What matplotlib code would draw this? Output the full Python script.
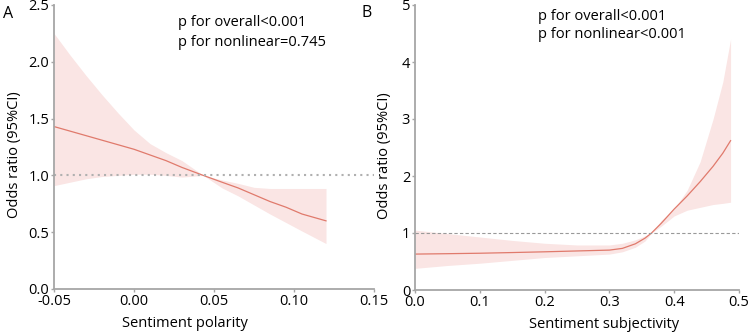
import matplotlib
matplotlib.use("Agg")
import matplotlib.pyplot as plt

plt.rcParams['font.family'] = ['Open Sans', 'DejaVu Sans']

# Panel A: sentiment polarity
pol_x = [-0.05, -0.04, -0.03, -0.02, -0.01, 0.0, 0.01, 0.02, 0.03, 0.0433,
         0.055, 0.065, 0.075, 0.085, 0.095, 0.105, 0.12]
pol_or = [1.43, 1.39, 1.35, 1.31, 1.27, 1.23, 1.18, 1.13, 1.07, 1.0,
          0.94, 0.89, 0.83, 0.77, 0.72, 0.66, 0.60]
pol_hi = [2.25, 2.06, 1.88, 1.71, 1.55, 1.40, 1.28, 1.20, 1.13, 1.0,
          0.96, 0.93, 0.895, 0.885, 0.885, 0.885, 0.885]
pol_lo = [0.91, 0.94, 0.97, 0.99, 1.0, 1.01, 1.01, 1.0, 0.985, 1.0,
          0.89, 0.82, 0.74, 0.66, 0.585, 0.51, 0.40]

# Panel B: sentiment subjectivity
sub_x = [0.0, 0.05, 0.1, 0.15, 0.2, 0.25, 0.3, 0.32, 0.34, 0.355, 0.365,
         0.38, 0.40, 0.42, 0.44, 0.46, 0.475, 0.487]
sub_or = [0.63, 0.637, 0.645, 0.657, 0.67, 0.685, 0.70, 0.73, 0.81, 0.91, 1.0,
          1.17, 1.42, 1.65, 1.90, 2.17, 2.40, 2.62]
sub_hi = [1.05, 0.99, 0.93, 0.87, 0.82, 0.79, 0.79, 0.82, 0.88, 0.95, 1.0,
          1.22, 1.42, 1.75, 2.25, 3.0, 3.65, 4.4]
sub_lo = [0.38, 0.43, 0.47, 0.52, 0.57, 0.60, 0.63, 0.67, 0.75, 0.86, 1.0,
          1.12, 1.30, 1.40, 1.45, 1.50, 1.52, 1.54]

line_c = '#e07a6c'
fill_c = '#fae5e4'
spine_c = '#a6a6a6'
fs = 10.5

fig = plt.figure(figsize=(7.5, 3.32), dpi=100)
axA = fig.add_axes([54/750, 1-289/332, 320/750, 284/332])
axB = fig.add_axes([415/750, 1-290/332, 324/750, 285/332])

def style(ax):
    for s in ['top', 'right']:
        ax.spines[s].set_visible(False)
    for s in ['left', 'bottom']:
        ax.spines[s].set_color(spine_c)
        ax.spines[s].set_linewidth(1.3)
    ax.tick_params(axis='both', length=2.5, width=1, color=spine_c,
                   labelsize=fs, pad=1, labelcolor='black')

# A
axA.fill_between(pol_x, pol_lo, pol_hi, color=fill_c, lw=0)
axA.plot(pol_x, pol_or, color=line_c, lw=0.9)
axA.axhline(1.0, color='#b0b0b0', lw=1.5, ls=(0, (1, 2)))
axA.set_xlim(-0.05, 0.15)
axA.set_ylim(0, 2.5)
axA.set_xticks([-0.05, 0.0, 0.05, 0.10, 0.15])
axA.set_xticklabels(['-0.05', '0.00', '0.05', '0.10', '0.15'])
axA.set_yticks([0, 0.5, 1.0, 1.5, 2.0, 2.5])
axA.set_yticklabels(['0.0', '0.5', '1.0', '1.5', '2.0', '2.5'])
style(axA)
axA.set_xlabel('Sentiment polarity', fontsize=fs)
axA.xaxis.set_label_coords(0.41, -0.095)
axA.set_ylabel('Odds ratio (95%CI)', fontsize=fs)
axA.yaxis.set_label_coords(-0.1, 0.472)

# B
axB.fill_between(sub_x, sub_lo, sub_hi, color=fill_c, lw=0)
axB.plot(sub_x, sub_or, color=line_c, lw=0.9)
axB.axhline(1.0, color='#999999', lw=0.8, ls=(0, (3, 2)))
axB.set_xlim(0, 0.5)
axB.set_ylim(0, 5)
axB.set_xticks([0, 0.1, 0.2, 0.3, 0.4, 0.5])
axB.set_xticklabels(['0.0', '0.1', '0.2', '0.3', '0.4', '0.5'])
axB.set_yticks([0, 1, 2, 3, 4, 5])
style(axB)
axB.set_xlabel('Sentiment subjectivity', fontsize=fs)
axB.xaxis.set_label_coords(0.583, -0.095)
axB.set_ylabel('Odds ratio (95%CI)', fontsize=fs)
axB.yaxis.set_label_coords(-0.07, 0.47)

# annotations
fig.text(178/750, 1-23/332, 'p for overall<0.001', fontsize=fs, va='center', ha='left')
fig.text(178/750, 1-42/332, 'p for nonlinear=0.745', fontsize=fs, va='center', ha='left')
fig.text(538/750, 1-17/332, 'p for overall<0.001', fontsize=fs, va='center', ha='left')
fig.text(538/750, 1-35/332, 'p for nonlinear<0.001', fontsize=fs, va='center', ha='left')
fig.text(8/750, 1-14/332, 'A', fontsize=fs+1, va='center', ha='center')
fig.text(367/750, 1-13/332, 'B', fontsize=fs+1, va='center', ha='center')

fig.savefig('out.png', dpi=100)
